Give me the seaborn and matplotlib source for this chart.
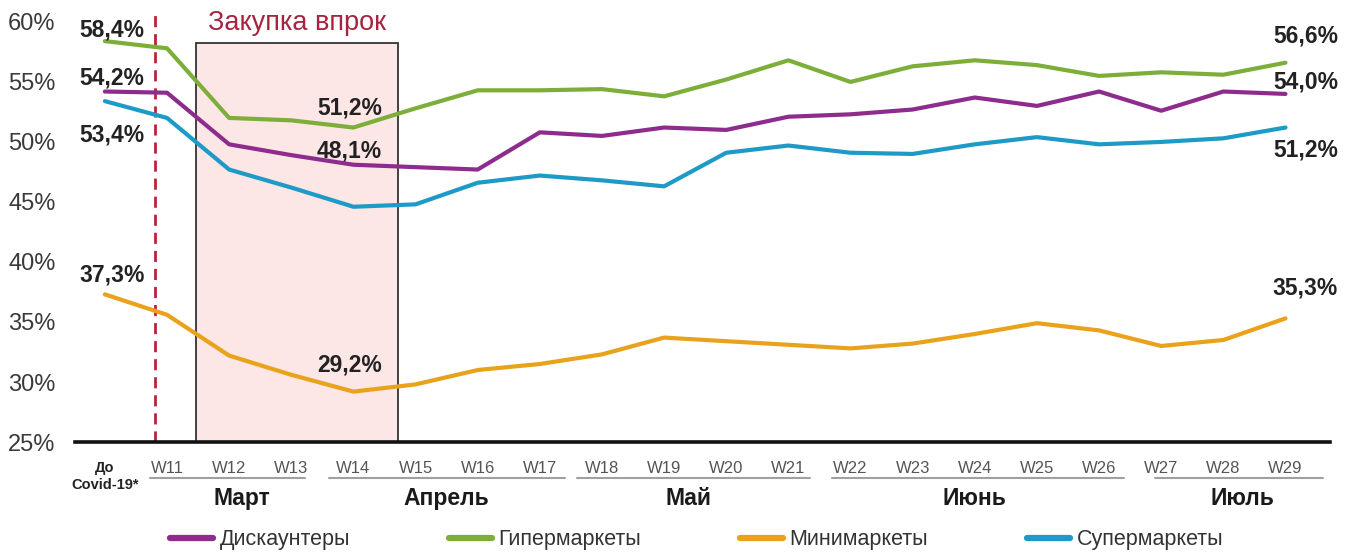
import numpy as np
import pandas as pd
import matplotlib
matplotlib.use("Agg")
import matplotlib.pyplot as plt
import matplotlib.transforms as mtransforms
from matplotlib.patches import Rectangle
from matplotlib.lines import Line2D
import seaborn as sns

# ---------------- data ----------------
weeks = ["До\nCovid-19*", "W11", "W12", "W13", "W14", "W15", "W16", "W17", "W18", "W19",
         "W20", "W21", "W22", "W23", "W24", "W25", "W26", "W27", "W28", "W29"]
discounters = [54.2, 54.1, 49.8, 48.9, 48.1, 47.9, 47.7, 50.8, 50.5, 51.2,
               51.0, 52.1, 52.3, 52.7, 53.7, 53.0, 54.2, 52.6, 54.2, 54.0]
hypermarkets = [58.4, 57.8, 52.0, 51.8, 51.2, 52.8, 54.3, 54.3, 54.4, 53.8,
                55.2, 56.8, 55.0, 56.3, 56.8, 56.4, 55.5, 55.8, 55.6, 56.6]
minimarkets = [37.3, 35.6, 32.2, 30.6, 29.2, 29.8, 31.0, 31.5, 32.3, 33.7,
               33.4, 33.1, 32.8, 33.2, 34.0, 34.9, 34.3, 33.0, 33.5, 35.3]
supermarkets = [53.4, 52.0, 47.7, 46.2, 44.6, 44.8, 46.6, 47.2, 46.8, 46.3,
                49.1, 49.7, 49.1, 49.0, 49.8, 50.4, 49.8, 50.0, 50.3, 51.2]
series_names = ["Дискаунтеры", "Гипермаркеты", "Минимаркеты", "Супермаркеты"]
series_colors = ["#8E2C8E", "#7DAE3A", "#E9A21B", "#1E9AC7"]
months = ["Март", "Апрель", "Май", "Июнь", "Июль"]
month_spans = [(0.72, 3.22), (3.6, 7.4), (7.6, 11.35), (11.7, 16.4), (16.9, 19.6)]
month_label_x = [2.2, 5.5, 9.4, 14.0, 18.3]
y_ticks = [25, 30, 35, 40, 45, 50, 55, 60]
annotation_title = "Закупка впрок"

# ---------------- frame ----------------
x_idx = np.arange(len(weeks))
values = [discounters, hypermarkets, minimarkets, supermarkets]
df = pd.DataFrame({
    "x": np.tile(x_idx, len(series_names)),
    "value": np.concatenate(values),
    "series": np.repeat(series_names, len(weeks)),
})

sns.set_theme(style="white")
plt.rcParams["font.family"] = ["Liberation Sans", "DejaVu Sans"]

fig = plt.figure(figsize=(13.45, 5.56), dpi=100)
ax = fig.add_axes([0.0558, 0.205, 0.9332, 0.788])

# shaded "stock-up" box and pre-covid divider
ax.add_patch(Rectangle((1.46, 25), 4.72 - 1.46, 58.25 - 25, facecolor="#FCE6E6",
                       edgecolor="#333333", lw=1.3, zorder=1))
ax.text((1.46 + 4.72) / 2, 59.9, annotation_title, ha="center", va="center",
        fontsize=19.5, color="#A8233F", zorder=5)
ax.plot([0.8, 0.8], [25, 60.6], ls=(0, (4, 2.5)), color="#B5263A", lw=2, zorder=2)

sns.lineplot(data=df, x="x", y="value", hue="series", hue_order=series_names,
             palette=series_colors, linewidth=3, legend=False, ax=ax, zorder=3)

ax.set_xlim(-0.48, 19.72)
ax.set_ylim(25, 61.5)
ax.set_yticks(y_ticks)
ax.set_yticklabels([f"{t}%" for t in y_ticks], fontsize=17, color="#3a3a3a")
ax.set_xticks(x_idx)
ax.set_xticklabels(weeks, fontsize=12, color="#555555")
lab0 = ax.get_xticklabels()[0]
lab0.set_fontweight("bold")
lab0.set_fontsize(10.5)
lab0.set_color("#222222")
ax.tick_params(axis="x", length=0, pad=14)
ax.tick_params(axis="y", length=0, pad=14)
ax.set_xlabel("")
ax.set_ylabel("")
for s in ["top", "right", "left"]:
    ax.spines[s].set_visible(False)
ax.spines["bottom"].set_color("#111111")
ax.spines["bottom"].set_linewidth(2.6)
ax.grid(False)

# month groups
trans = mtransforms.blended_transform_factory(ax.transData, ax.transAxes)
for name, (a, b), mx in zip(months, month_spans, month_label_x):
    ax.plot([a, b], [-0.082, -0.082], transform=trans, color="#A0A0A0", lw=1.5,
            clip_on=False)
    ax.text(mx, -0.128, name, transform=trans, ha="center", va="center",
            fontsize=16.5, fontweight="bold", color="#1a1a1a")

# value labels
def fmt(v):
    return f"{v:.1f}".replace(".", ",") + "%"

label_specs = [
    (hypermarkets, 0, 7, 11), (discounters, 0, 7, 14), (supermarkets, 0, 7, -34),
    (minimarkets, 0, 7, 19), (hypermarkets, 4, -4, 20), (discounters, 4, -4, 14),
    (minimarkets, 4, -4, 27), (hypermarkets, 19, 20, 27), (discounters, 19, 20, 12),
    (supermarkets, 19, 20, -22), (minimarkets, 19, 20, 30),
]
for arr, i, dx, dy in label_specs:
    ax.annotate(fmt(arr[i]), xy=(i, arr[i]), xytext=(dx, dy), textcoords="offset pixels",
                ha="center", va="center", fontsize=16.5, fontweight="bold",
                color="#222222", zorder=6)

handles = [Line2D([0], [0], color=c, lw=4.5) for c in series_colors]
fig.legend(handles, series_names, loc="center", bbox_to_anchor=(0.518, 0.029), ncol=4,
           frameon=False, fontsize=15.5, handlelength=2.0, handletextpad=0.3,
           columnspacing=4.6, labelcolor="#333333")

fig.savefig("out.png", dpi=100)
